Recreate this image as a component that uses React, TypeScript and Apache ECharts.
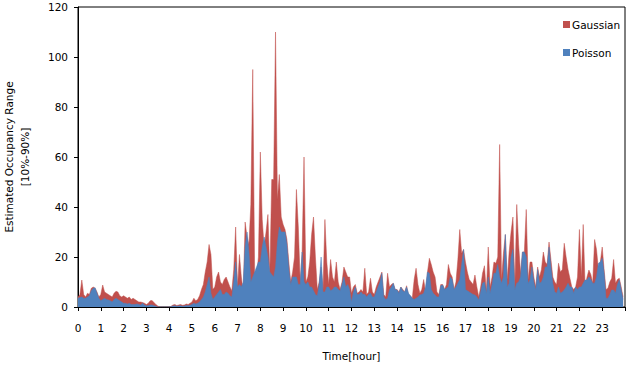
import React, { useEffect, useRef } from "react";
import * as echarts from "echarts";

// Time axis: hours 0..24, data every 5 minutes (12 values per hour)
const hourLabels = ["0","1","2","3","4","5","6","7","8","9","10","11","12","13","14","15","16","17","18","19","20","21","22","23"];

const gaussian = [
  4, 5, 10.8, 5, 4, 5.5, 5, 7.5, 8, 7.5, 6, 4,
  5, 8.8, 6, 5.5, 5, 4.5, 4, 5.5, 6.3, 6, 4.5, 4,
  4.5, 4, 3.5, 4, 3, 3.5, 3, 2.5, 2, 2, 1.8, 1.5,
  1, 1.5, 2.5, 2.6, 1.8, 1, 0.4, 0, 0, 0, 0, 0,
  0, 0.3, 0.8, 1, 0.6, 0.8, 1, 0.7, 0.8, 1.2, 1, 1.5,
  2, 3.5, 2.5, 3, 4.5, 7, 9, 14, 18, 25, 21, 7,
  8, 12, 14, 10, 9, 11, 12, 10, 8, 6.5, 15, 32,
  8, 21, 12, 6, 34, 28, 25, 41, 95, 14, 12, 20,
  62, 35, 24, 30, 37, 13, 51, 51, 110, 43, 53, 36,
  33, 31, 27, 18, 10, 14, 20, 47, 32, 10, 22, 60,
  10, 12, 18, 29, 36, 20, 7, 10, 16, 7, 35, 18,
  9, 19, 12, 10, 18, 10, 7, 10, 16, 14, 12, 12,
  5.5, 8, 9, 5.5, 6, 7, 6, 15.5, 5, 6, 11.5, 6,
  5, 8, 10, 12, 14, 5, 4, 13.5, 8, 9, 9.5, 7,
  7, 6, 8, 7, 6, 8.5, 5, 4.5, 3.5, 11, 15.5, 9,
  5.5, 7, 11, 6, 14, 19.5, 17, 14, 12, 6, 5, 9,
  9, 7, 9, 17, 13.5, 12, 7, 10, 19, 31, 21.5, 23,
  18, 14, 11, 10, 9, 12.8, 8, 4, 8, 13.5, 16.5, 6,
  24, 8, 12, 18, 17.5, 20, 65, 11, 21.5, 29, 11, 22,
  30, 36, 8, 41, 25, 13.5, 22, 22, 39, 11, 18, 18,
  12, 8, 16, 12, 15, 22, 18, 17, 26, 19, 12, 10,
  9, 17.5, 14, 15, 25.5, 20, 15, 11.5, 8, 7, 8, 12,
  31, 12, 33, 8, 12, 14.8, 13, 9.5, 27, 23, 15, 18,
  24, 15, 7, 7.5, 10, 11.5, 19, 9.5, 11, 11.5, 8, 4,
];

const poisson = [
  3.5, 3.8, 4, 3.5, 3.5, 4, 4.5, 6.5, 7.5, 7.7, 5.5, 3.5,
  2.5, 3, 3.5, 3, 2.8, 2.5, 2, 3, 3.5, 3, 2.5, 2,
  1.5, 1.5, 1.2, 1.5, 1, 1, 1, 1.2, 1, 0.8, 1.5, 0.8,
  0.5, 0.6, 0.8, 0.8, 0.5, 0.3, 0, 0, 0, 0, 0, 0,
  0, 0.2, 0.4, 0.5, 0.3, 0.4, 0.5, 0.3, 0.4, 0.6, 0.5, 0.7,
  1, 1.5, 1.2, 1.5, 2, 3, 4, 6, 9, 12, 5.5, 3,
  4, 5, 6, 7, 5, 5, 6, 5.5, 4.5, 4, 10, 18,
  8, 9, 8, 10, 24, 30, 22, 10, 12, 14, 16, 18,
  18, 24, 28, 24, 20, 14, 13, 12, 16, 26, 32, 30,
  30, 30, 25, 15, 9, 12, 12, 12, 9, 9, 22, 10,
  9, 10, 8, 8, 6.5, 5, 4.5, 9, 20, 6, 6, 8,
  8, 6.5, 7, 8, 8, 7, 6.5, 9, 12, 8, 9, 7,
  2, 6, 8, 5, 5, 6, 5, 5, 4, 5, 5.5, 4,
  4, 6, 8, 10, 13.5, 4, 3, 3.5, 6.8, 8, 9.5, 7,
  6.8, 5.5, 8, 6.5, 6, 8, 5.5, 4.5, 3.5, 3, 3.5, 4,
  4.8, 5, 5.5, 8, 14, 13.5, 7, 5.5, 4.8, 4, 4, 8.5,
  8.8, 7, 7.5, 8, 12, 11, 7, 8, 9.5, 11, 17, 23,
  7, 6.5, 6, 5.5, 5, 4.8, 4, 2.8, 6, 9.5, 10, 5.5,
  12, 5.5, 9, 13.5, 13.5, 17, 12, 9.5, 12, 29, 8, 9.5,
  20, 23, 7, 9.5, 10, 12, 22, 22, 20, 9.5, 10.8, 16,
  10, 6.8, 15, 9.5, 10, 12, 16, 16, 24, 16, 9.5, 6,
  5.5, 8, 5.5, 6, 6.8, 8, 9.5, 8, 8, 5.5, 8, 7,
  8, 8, 9.5, 10.8, 10.8, 12, 11, 9.5, 9.5, 12, 17.5, 18,
  19.5, 13.5, 3.5, 3.5, 5, 6.8, 6.8, 5.5, 9, 10.8, 6.8, 3,
];

const stepsPerHour = 12;
const FONT = "DejaVu Sans";

export default function App() {
  const ref = useRef<HTMLDivElement>(null);

  useEffect(() => {
    if (!ref.current) return;
    const chart = echarts.init(ref.current, null, { renderer: "svg" });
    const toPairs = (arr: number[]) => arr.map((v, i) => [i / stepsPerHour, v]);

    chart.setOption({
      animation: false,
      backgroundColor: "#fff",
      grid: {
        left: 78,
        right: 5,
        top: 7,
        bottom: 61,
        containLabel: false,
        outerBoundsMode: "none",
        show: true,
        borderColor: "#000",
        borderWidth: 1,
        backgroundColor: "transparent",
      },
      legend: {
        orient: "vertical",
        left: 558,
        top: 14,
        itemWidth: 7,
        itemHeight: 7,
        itemGap: 17,
        icon: "rect",
        textStyle: { fontFamily: FONT, fontSize: 10.5, color: "#000", padding: [0, 0, 0, -3] },
        data: ["Gaussian", "Poisson"],
      },
      xAxis: {
        type: "value",
        min: 0,
        max: 24,
        interval: 1,
        name: "Time[hour]",
        nameLocation: "middle",
        nameGap: 43,
        nameTextStyle: { fontFamily: FONT, fontSize: 10.5, color: "#000" },
        axisLine: { show: true, lineStyle: { color: "#000", width: 1 } },
        axisTick: { show: true, length: 4, lineStyle: { color: "#000" } },
        axisLabel: {
          fontFamily: FONT,
          fontSize: 10.5,
          color: "#000",
          margin: 15,
          formatter: (v: number) => (v >= 0 && v < 24 ? hourLabels[Math.round(v)] : ""),
        },
        splitLine: { show: false },
      },
      yAxis: {
        type: "value",
        min: 0,
        max: 120,
        interval: 20,
        name: "Estimated Occupancy Range\n[10%-90%]",
        nameLocation: "middle",
        nameGap: 45,
        nameRotate: 90,
        nameTextStyle: { fontFamily: FONT, fontSize: 10.5, color: "#000", lineHeight: 16 },
        axisLine: { show: true, lineStyle: { color: "#000", width: 1 } },
        axisTick: { show: true, length: 4, lineStyle: { color: "#000" } },
        axisLabel: { fontFamily: FONT, fontSize: 10.5, color: "#000", margin: 10 },
        splitLine: { show: false },
      },
      series: [
        {
          name: "Gaussian",
          type: "line",
          data: toPairs(gaussian),
          showSymbol: false,
          symbol: "none",
          color: "#C0504D",
          lineStyle: { width: 0.5, color: "#C0504D" },
          areaStyle: { color: "#C0504D", opacity: 1 },
          z: 2,
        },
        {
          name: "Poisson",
          type: "line",
          data: toPairs(poisson),
          showSymbol: false,
          symbol: "none",
          color: "#4F81BD",
          lineStyle: { width: 0.5, color: "#4F81BD" },
          areaStyle: { color: "#4F81BD", opacity: 1 },
          z: 3,
        },
      ],
    });

    return () => chart.dispose();
  }, []);

  return <div ref={ref} style={{ width: 630, height: 368, position: "absolute", left: 0, top: 0 }} />;
}
